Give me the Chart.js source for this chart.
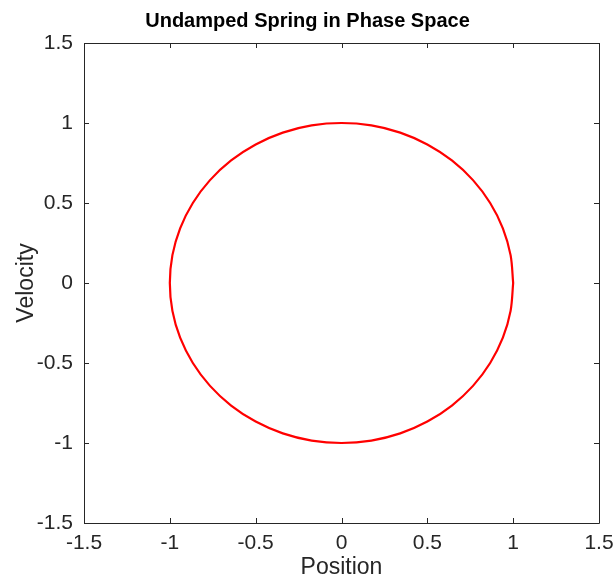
<!DOCTYPE html>
<html>
<head>
<meta charset="utf-8">
<script src="https://cdn.jsdelivr.net/npm/chart.js@4"></script>
<style>
  html, body { margin: 0; padding: 0; background: #fff; }
  #wrap { width: 615px; height: 576px; }
</style>
</head>
<body>
<div id="wrap"><canvas id="c" width="615" height="576"></canvas></div>
<script>
// phase space trace (one loop of the orbit)
var positionValues = [1, 0.985, 0.940, 0.866, 0.766, 0.643, 0.5, 0.342, 0.174, 0,
  -0.174, -0.342, -0.5, -0.643, -0.766, -0.866, -0.940, -0.985, -1,
  -0.985, -0.940, -0.866, -0.766, -0.643, -0.5, -0.342, -0.174, 0,
  0.174, 0.342, 0.5, 0.643, 0.766, 0.866, 0.940, 0.985, 1];
var velocityValues = [0, 0.174, 0.342, 0.5, 0.643, 0.766, 0.866, 0.940, 0.985, 1,
  0.985, 0.940, 0.866, 0.766, 0.643, 0.5, 0.342, 0.174, 0,
  -0.174, -0.342, -0.5, -0.643, -0.766, -0.866, -0.940, -0.985, -1,
  -0.985, -0.940, -0.866, -0.766, -0.643, -0.5, -0.342, -0.174, 0];
var tickValues = [-1.5, -1, -0.5, 0, 0.5, 1, 1.5];

var axisColor = '#262626';
var points = positionValues.map(function(x, i) { return {x: x, y: velocityValues[i]}; });

// matlab style box with ticks pointing inward
var boxTicks = {
  id: 'boxTicks',
  afterDraw: function(chart) {
    var ctx = chart.ctx, a = chart.chartArea;
    var xs = chart.scales.x, ys = chart.scales.y;
    var len = 5;
    ctx.save();
    ctx.strokeStyle = axisColor;
    ctx.lineWidth = 1;
    ctx.beginPath();
    ctx.rect(Math.round(a.left) + 0.5, Math.round(a.top) + 0.5,
      Math.round(a.right - a.left), Math.round(a.bottom - a.top));
    tickValues.forEach(function(v) {
      var px = Math.round(xs.getPixelForValue(v)) + 0.5;
      ctx.moveTo(px, a.bottom); ctx.lineTo(px, a.bottom - len);
      ctx.moveTo(px, a.top); ctx.lineTo(px, a.top + len);
      var py = Math.round(ys.getPixelForValue(v)) + 0.5;
      ctx.moveTo(a.left, py); ctx.lineTo(a.left + len, py);
      ctx.moveTo(a.right, py); ctx.lineTo(a.right - len, py);
    });
    ctx.stroke();
    ctx.restore();
  }
};

var font = "'Liberation Sans', Arial, sans-serif";

new Chart(document.getElementById('c'), {
  type: 'scatter',
  data: {
    datasets: [{
      data: points,
      showLine: true,
      borderColor: '#ff0000',
      borderWidth: 2.2,
      pointRadius: 0,
      tension: 0.33,
      fill: false
    }]
  },
  options: {
    responsive: false,
    animation: false,
    layout: { padding: 0 },
    plugins: {
      legend: { display: false },
      tooltip: { enabled: false },
      title: {
        display: true,
        text: 'Undamped Spring in Phase Space',
        color: '#000',
        font: { family: font, size: 20, weight: 'bold', lineHeight: 1.2 },
        padding: { top: 9, bottom: 10 }
      }
    },
    scales: {
      x: {
        type: 'linear',
        min: -1.5, max: 1.5,
        afterBuildTicks: function(s) { s.ticks = tickValues.map(function(v) { return {value: v}; }); },
        afterFit: function(s) { s.height = 53; s.paddingLeft = 0; s.paddingRight = 16; },
        grid: { display: false, drawTicks: false },
        border: { display: false },
        ticks: { color: axisColor, font: { family: font, size: 21 }, padding: 8, maxRotation: 0,
          callback: function(v) { return String(v); } },
        title: { display: true, text: 'Position', color: axisColor,
          font: { family: font, size: 23, lineHeight: 0.75 }, padding: { top: 0, bottom: 0 } }
      },
      y: {
        type: 'linear',
        min: -1.5, max: 1.5,
        afterBuildTicks: function(s) { s.ticks = tickValues.map(function(v) { return {value: v}; }); },
        afterFit: function(s) { s.width = 84; s.paddingTop = 0; s.paddingBottom = 0; },
        grid: { display: false, drawTicks: false },
        border: { display: false },
        ticks: { color: axisColor, font: { family: font, size: 21 }, padding: 11,
          callback: function(v) { return String(v); } },
        title: { display: true, text: 'Velocity', color: axisColor,
          font: { family: font, size: 23, lineHeight: 1 }, padding: { top: 15, bottom: 0 } }
      }
    }
  },
  plugins: [boxTicks]
});
</script>
</body>
</html>
